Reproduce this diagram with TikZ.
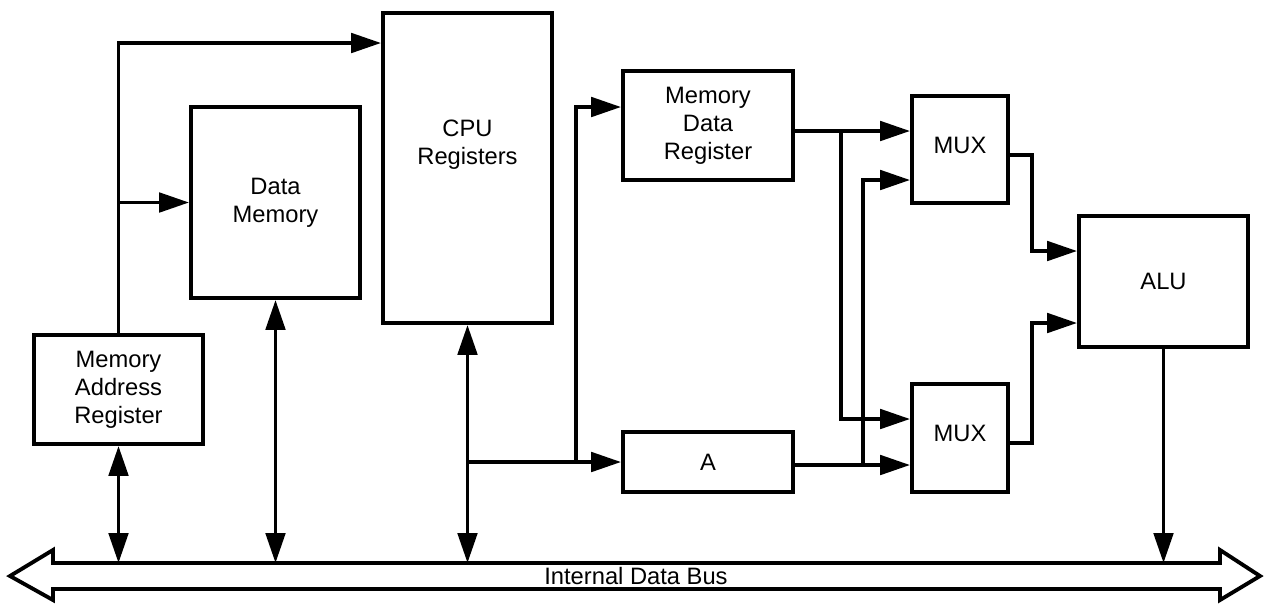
\documentclass[tikz,border=0pt]{standalone}
\usepackage{fontspec}
\setmainfont{Liberation Sans}
\usetikzlibrary{arrows.meta}
\begin{document}
\begin{tikzpicture}[x=0.02cm, y=-0.02cm, line width=2.2pt, line join=miter, >={Triangle[length=17pt,width=11pt]}, font=\fontsize{13.5}{16}\selectfont,
  blk/.style={draw, inner sep=0pt, align=center}]
\useasboundingbox (0,0) rectangle (1268,603);
\node[blk, minimum width=3.38cm, minimum height=2.18cm] (mar) at (118.5,389.5) {Memory\\Address\\Register};
\node[blk, minimum width=3.38cm, minimum height=3.82cm] (dm) at (275.5,202.5) {Data\\Memory};
\node[blk, minimum width=3.38cm, minimum height=6.2cm, label={[align=center, yshift=0.46cm]center:CPU\\Registers}] (cpu) at (467.5,168) {};
\node[blk, minimum width=3.4cm, minimum height=2.18cm] (mdr) at (708,125.5) {Memory\\Data\\Register};
\node[blk, minimum width=3.4cm, minimum height=1.2cm] (a) at (708,462) {A};
\node[blk, minimum width=1.92cm, minimum height=2.14cm, label={[yshift=0.09cm]center:MUX}] (mux1) at (960,149.5) {};
\node[blk, minimum width=1.92cm, minimum height=2.16cm, label={[yshift=0.1cm]center:MUX}] (mux2) at (960,438) {};
\node[blk, minimum width=3.38cm, minimum height=2.62cm] (alu) at (1163.5,281.5) {ALU};
% bus
\draw (53,563) -- (1220,563) -- (1220,550) -- (1260,576) -- (1220,600) -- (1220,589) -- (53,589) -- (53,600) -- (10,576) -- (53,550) -- cycle;
\node (buslabel) at (636,576) {Internal Data Bus};
\coordinate (bus) at (0,563);
\draw[->] (mar.north) |- (cpu.west |- 0,43);
\draw[->] (mar.north |- dm.west) -- (dm.west);
\draw[<->] (mar.south) -- (mar.south |- bus);
\draw[<->] (dm.south) -- (dm.south |- bus);
\draw[<->] (cpu.south) -- (cpu.south |- bus);
\draw[->] (alu.south) -- (alu.south |- bus);
\coordinate (jc) at (cpu.south |- a.west);
\draw[->] (jc) -- (a.west);
\draw[->] (576,462) |- ([yshift=0.37cm]mdr.west);
\draw[->] (mdr.east |- 0,131) -- (mux1.west |- 0,131);
\draw[->] (841,131) |- (mux2.west |- 0,419);
\draw[->] (a.east |- 0,465) -- (mux2.west |- 0,465);
\draw[->] (863,465) |- (mux1.west |- 0,180);
\draw[->] (mux1.east |- 0,155) -- (1032,155) |- (alu.west |- 0,251);
\draw[->] (mux2.east |- 0,443) -- (1032,443) |- (alu.west |- 0,323);
\end{tikzpicture}
\end{document}
